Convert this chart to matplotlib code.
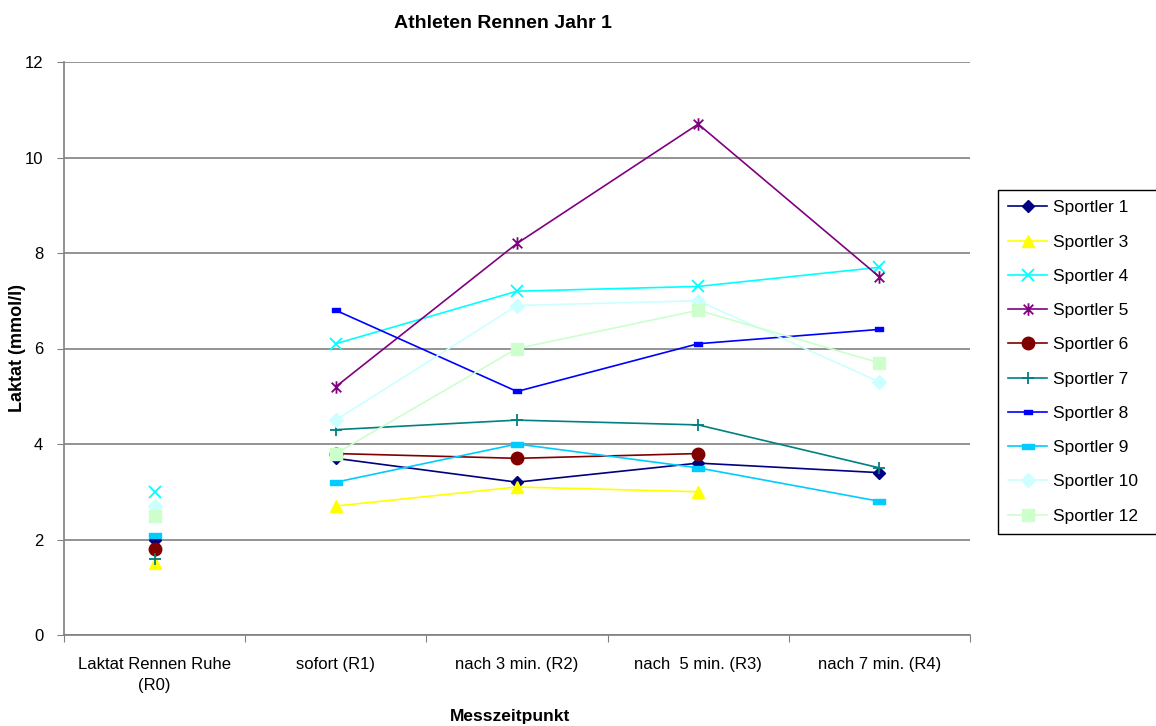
import matplotlib.pyplot as plt
from matplotlib.path import Path
import numpy as np

plt.rcParams.update({
    "font.family": ["Liberation Sans", "DejaVu Sans"],
    "font.size": 12,
})

# Messzeitpunkte
categories = ["Laktat Rennen Ruhe\n(R0)", "sofort (R1)", "nach 3 min. (R2)",
              "nach  5 min. (R3)", "nach 7 min. (R4)"]

# Laktatwerte (mmol/l), R0..R4; nan = kein Messwert
sportler_1 = [2.0, 3.7, 3.2, 3.6, 3.4]
sportler_3 = [1.5, 2.7, 3.1, 3.0, np.nan]
sportler_4 = [3.0, 6.1, 7.2, 7.3, 7.7]
sportler_5 = [np.nan, 5.2, 8.2, 10.7, 7.5]
sportler_6 = [1.8, 3.8, 3.7, 3.8, np.nan]
sportler_7 = [1.6, 4.3, 4.5, 4.4, 3.5]
sportler_8 = [np.nan, 6.8, 5.1, 6.1, 6.4]
sportler_9 = [2.1, 3.2, 4.0, 3.5, 2.8]
sportler_10 = [2.7, 4.5, 6.9, 7.0, 5.3]
sportler_12 = [2.5, 3.8, 6.0, 6.8, 5.7]

series_names = ["Sportler 1", "Sportler 3", "Sportler 4", "Sportler 5", "Sportler 6",
                "Sportler 7", "Sportler 8", "Sportler 9", "Sportler 10", "Sportler 12"]
series_values = [sportler_1, sportler_3, sportler_4, sportler_5, sportler_6,
                 sportler_7, sportler_8, sportler_9, sportler_10, sportler_12]

# Excel-style asterisk: an x with a vertical bar through it
asterisk = Path([(-1, -1), (1, 1), (-1, 1), (1, -1), (0, -1.3), (0, 1.3)],
                [Path.MOVETO, Path.LINETO, Path.MOVETO, Path.LINETO, Path.MOVETO, Path.LINETO])
dash = Path([(-1, -0.4), (1, -0.4), (1, 0.4), (-1, 0.4), (-1, -0.4)],
            [Path.MOVETO, Path.LINETO, Path.LINETO, Path.LINETO, Path.CLOSEPOLY])

styles = [
    dict(color="#000080", marker="D", ms=6),
    dict(color="#FFFF00", marker="^", ms=8),
    dict(color="#00FFFF", marker="x", ms=8, mew=1.3),
    dict(color="#800080", marker=asterisk, ms=9, mew=1.3),
    dict(color="#800000", marker="o", ms=9),
    dict(color="#008080", marker="+", ms=9, mew=1.3),
    dict(color="#0000FF", marker=dash, ms=6),
    dict(color="#00CCFF", marker=dash, ms=9),
    dict(color="#CCFFFF", marker="D", ms=7),
    dict(color="#CCFFCC", marker="s", ms=9),
]

fig = plt.figure(figsize=(11.56, 7.26), dpi=100)
ax = fig.add_axes([64 / 1156, 91 / 726, 906 / 1156, 573 / 726])

x = np.arange(len(categories))
handles = []
for name, vals, st in zip(series_names, series_values, styles):
    vals = np.array(vals, dtype=float)
    # Ruhewert nur als Punkt, danach verbunden
    ax.plot(x[:1], vals[:1], linestyle="none", marker=st["marker"], ms=st["ms"],
            color=st["color"], mec=st["color"], mew=st.get("mew", 1.0), zorder=3)
    line, = ax.plot(x[1:], vals[1:], color=st["color"], lw=1.2, marker=st["marker"],
                    ms=st["ms"], mec=st["color"], mew=st.get("mew", 1.0),
                    label=name, zorder=3)
    handles.append(line)

ax.set_xlim(-0.5, len(categories) - 0.5)
ax.set_ylim(0, 12)
ax.set_yticks(np.arange(0, 13, 2))
ax.yaxis.grid(True, color="#808080", lw=1.2)
ax.set_axisbelow(True)

# category boundaries carry the tick marks, labels sit in the middle
ax.set_xticks(np.arange(-0.5, len(categories), 1.0))
ax.set_xticklabels([])
ax.set_xticks(x, minor=True)
ax.set_xticklabels(categories, minor=True, linespacing=1.5)
ax.tick_params(axis="x", which="major", length=5, color="#808080")
ax.tick_params(axis="x", which="minor", length=0, pad=16, labelsize=12)
ax.tick_params(axis="y", length=5, color="#808080", pad=10, labelsize=12)

for side in ("top", "right"):
    ax.spines[side].set_visible(False)
for side in ("left", "bottom"):
    ax.spines[side].set_color("#808080")
    ax.spines[side].set_linewidth(1.2)

fig.text(503 / 1156, 1 - 24 / 726, "Athleten Rennen Jahr 1", ha="center", va="center",
         fontsize=14, fontweight="bold")
fig.text(510 / 1156, 1 - 716 / 726, "Messzeitpunkt", ha="center", va="center",
         fontsize=12.5, fontweight="bold")
fig.text(18 / 1156, 1 - 348 / 726, "Laktat (mmol/l)", ha="center", va="center",
         rotation=90, fontsize=13, fontweight="bold")

# legend box runs off the right edge of the figure
leg = fig.legend(handles=handles, loc="center", mode="expand",
                 bbox_to_anchor=(998 / 1156, 1 - 537 / 726, 170 / 1156, 350 / 726),
                 borderaxespad=0, frameon=True, fancybox=False, edgecolor="black", framealpha=1,
                 handlelength=2.25, labelspacing=1.1, borderpad=0.6, handletextpad=0.3,
                 fontsize=12.5)
leg.get_frame().set_linewidth(1.0)

fig.savefig("out.png", dpi=100)
